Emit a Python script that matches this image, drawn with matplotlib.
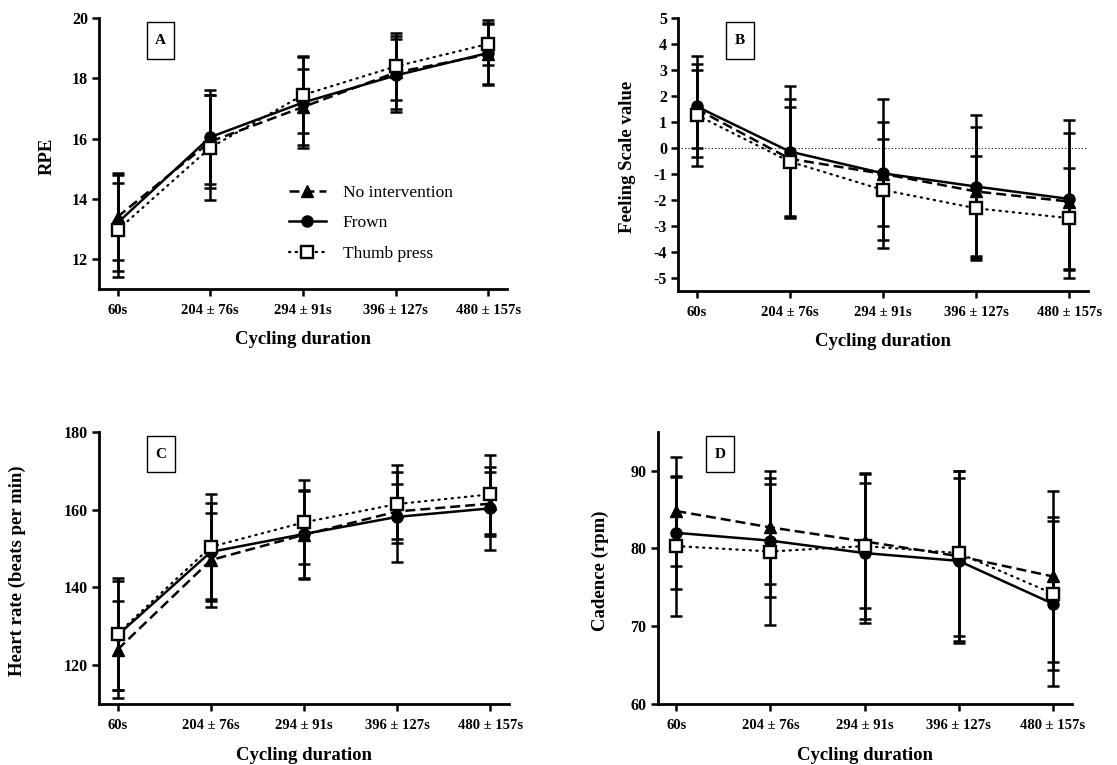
import matplotlib
matplotlib.use("Agg")
import matplotlib.pyplot as plt
from matplotlib.patches import Rectangle
import numpy as np

plt.rcParams['font.family'] = ['Liberation Serif', 'DejaVu Serif']
plt.rcParams['axes.unicode_minus'] = False

categories = ["60s", "204 ± 76s", "294 ± 91s", "396 ± 127s", "480 ± 157s"]
series_names = ["No intervention", "Frown", "Thumb press"]

# Panel A: RPE
rpe_ni = [13.4, 15.9, 17.05, 18.2, 18.8]
rpe_ni_sd = [1.45, 1.55, 1.25, 1.2, 1.0]
rpe_frown = [13.2, 16.05, 17.2, 18.1, 18.85]
rpe_frown_sd = [1.6, 1.55, 1.5, 1.2, 1.08]
rpe_thumb = [12.96, 15.7, 17.45, 18.4, 19.15]
rpe_thumb_sd = [1.55, 1.75, 1.28, 1.1, 0.7]

# Panel B: Feeling Scale
fs_ni = [1.5, -0.42, -1.0, -1.68, -2.07]
fs_ni_sd = [1.5, 2.3, 2.0, 2.5, 2.65]
fs_frown = [1.6, -0.14, -0.98, -1.49, -1.97]
fs_frown_sd = [1.95, 2.53, 2.88, 2.75, 3.05]
fs_thumb = [1.27, -0.53, -1.62, -2.33, -2.71]
fs_thumb_sd = [1.96, 2.1, 1.95, 2.0, 1.95]

# Panel C: Heart rate
hr_ni = [124.0, 147.0, 153.5, 159.5, 161.5]
hr_ni_sd = [12.5, 12.0, 11.3, 7.0, 8.2]
hr_frown = [127.7, 149.1, 153.7, 158.1, 160.3]
hr_frown_sd = [14.0, 12.5, 11.3, 11.5, 10.7]
hr_thumb = [128.1, 150.4, 156.7, 161.4, 163.9]
hr_thumb_sd = [14.4, 13.5, 10.8, 10.1, 10.1]

# Panel D: Cadence
cad_ni = [84.8, 82.7, 80.9, 79.0, 76.4]
cad_ni_sd = [7.0, 7.3, 8.6, 10.9, 11.0]
cad_frown = [82.0, 81.0, 79.4, 78.4, 72.9]
cad_frown_sd = [7.2, 7.3, 9.0, 10.6, 10.6]
cad_thumb = [80.3, 79.6, 80.3, 79.4, 74.2]
cad_thumb_sd = [9.0, 9.5, 9.4, 10.6, 9.8]

W, H = 1117, 765
fig = plt.figure(figsize=(W / 100, H / 100), dpi=100)


def px_axes(left, right, top, bottom):
    return fig.add_axes([left / W, 1 - bottom / H, (right - left) / W, (bottom - top) / H])


styles = [
    dict(ls=(0, (4, 2)), marker='^', mfc='black', mec='black', ms=8, lw=1.8),
    dict(ls='-', marker='o', mfc='black', mec='black', ms=8, lw=1.8),
    dict(ls=(0, (0.6, 2.4)), marker='s', mfc='white', mec='black', ms=8, mew=1.7,
         lw=1.6, dash_capstyle='round'),
]

panels = [
    dict(box=(99, 507, 18.3, 289), letter='A', ylabel='RPE', ylim=(11, 20),
         yticks=[12, 14, 16, 18, 20], data=[(rpe_ni, rpe_ni_sd), (rpe_frown, rpe_frown_sd),
                                            (rpe_thumb, rpe_thumb_sd)], ylx=-0.127),
    dict(box=(678, 1088, 18.3, 290.5), letter='B', ylabel='Feeling Scale value', ylim=(-5.5, 5),
         yticks=list(range(-5, 6)), data=[(fs_ni, fs_ni_sd), (fs_frown, fs_frown_sd),
                                          (fs_thumb, fs_thumb_sd)], ylx=-0.122),
    dict(box=(99, 509, 431.7, 704), letter='C', ylabel='Heart rate (beats per min)', ylim=(110, 180),
         yticks=[120, 140, 160, 180], data=[(hr_ni, hr_ni_sd), (hr_frown, hr_frown_sd),
                                            (hr_thumb, hr_thumb_sd)], ylx=-0.199),
    dict(box=(657.6, 1071.5, 431.7, 704), letter='D', ylabel='Cadence (rpm)', ylim=(60, 95),
         yticks=[60, 70, 80, 90], data=[(cad_ni, cad_ni_sd), (cad_frown, cad_frown_sd),
                                        (cad_thumb, cad_thumb_sd)], ylx=-0.139),
]

x = np.arange(len(categories))
for p in panels:
    ax = px_axes(*p['box'])
    handles = []
    for (means, sds), st, name in zip(p['data'], styles, series_names):
        ax.errorbar(x, means, yerr=sds, fmt='none', ecolor='black', elinewidth=1.8,
                    capsize=4.5, capthick=1.8, zorder=2)
    for (means, sds), st, name in zip(p['data'], styles, series_names):
        h, = ax.plot(x, means, color='black', label=name, zorder=3, **st)
        handles.append(h)
    if p['letter'] == 'B':
        ax.axhline(0, color='black', lw=0.8, ls=(0, (1, 2)), zorder=1)
    ax.set_xlim(-0.2, 4.2)
    ax.set_ylim(*p['ylim'])
    ax.set_yticks(p['yticks'])
    ax.set_xticks(x)
    ax.set_xticklabels(categories)
    for s in ['top', 'right']:
        ax.spines[s].set_visible(False)
    for s in ['left', 'bottom']:
        ax.spines[s].set_linewidth(2.0)
    ax.tick_params(axis='both', direction='out', length=5, width=1.8, labelsize=10.5)
    ax.tick_params(axis='x', pad=6)
    ax.tick_params(axis='y', pad=3, labelsize=11.5)
    for lab in ax.get_xticklabels() + ax.get_yticklabels():
        lab.set_fontweight('bold')
    ax.set_xlabel('Cycling duration', fontsize=13.5, fontweight='bold')
    ax.xaxis.set_label_coords(0.5, -0.188)
    ax.xaxis.label.set_va('center')
    ax.set_ylabel(p['ylabel'], fontsize=13.5, fontweight='bold')
    ax.yaxis.set_label_coords(p['ylx'], 0.49)
    ax.yaxis.label.set_va('center')
    # panel letter box
    bw, bh = 0.068, 0.135
    cx, cy = 0.151, 0.918
    ax.add_patch(Rectangle((cx - bw / 2, cy - bh / 2), bw, bh, transform=ax.transAxes,
                           fill=False, ec='black', lw=1.0, clip_on=False))
    ax.text(cx, cy, p['letter'], transform=ax.transAxes, ha='center', va='center',
            fontsize=11, fontweight='bold')
    if p['letter'] == 'A':
        ax.legend(handles=handles, loc='upper left', bbox_to_anchor=(0.466, 0.385),
                  frameon=False, borderaxespad=0, borderpad=0, handlelength=2.1,
                  handletextpad=1.0, labelspacing=0.82, fontsize=12.5)

fig.savefig('out.png', dpi=100)
